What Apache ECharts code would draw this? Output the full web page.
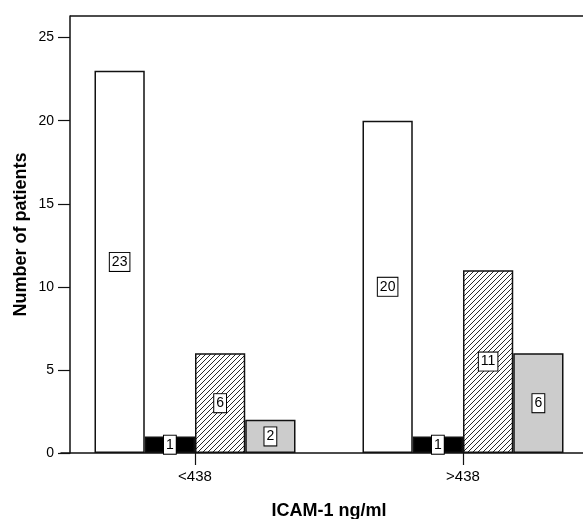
<!DOCTYPE html>
<html><head><meta charset="utf-8">
<script src="https://cdn.jsdelivr.net/npm/echarts@6/dist/echarts.min.js"></script>
<style>html,body{margin:0;padding:0;background:#fff}#c{width:583px;height:519px}</style>
</head><body><div id="c"></div>
<script>
var categories = ['<438', '>438'];
var whiteVals = [23, 20];
var blackVals = [1, 1];
var hatchVals = [6, 11];
var grayVals = [2, 6];
var yTicks = [0, 5, 10, 15, 20, 25];

var cv = document.createElement('canvas');
cv.width = 5; cv.height = 5;
var cx = cv.getContext('2d');
cx.fillStyle = '#fff'; cx.fillRect(0, 0, 5, 5);
cx.strokeStyle = '#111'; cx.lineWidth = 0.9;
cx.beginPath();
cx.moveTo(-1, 6); cx.lineTo(6, -1);
cx.moveTo(-1, 1); cx.lineTo(1, -1);
cx.moveTo(4, 6); cx.lineTo(6, 4);
cx.stroke();

var font = 'Liberation Sans, Arial, Helvetica, sans-serif';
var lbl = {
  show: true, position: 'inside', color: '#000', fontSize: 14, fontFamily: font,
  backgroundColor: '#fff', borderColor: '#000', borderWidth: 1, padding: [3, 2, 1, 2]
};
function mk(name, data, color) {
  return {
    name: name, type: 'bar', data: data, barGap: '0%', barCategoryGap: '25%',
    itemStyle: { color: color, borderColor: '#111', borderWidth: 1.5 },
    label: lbl, emphasis: { disabled: true }
  };
}
var chart = echarts.init(document.getElementById('c'), null, { renderer: 'canvas' });
chart.setOption({
  animation: false,
  grid: { left: 61, width: 536, top: 16, height: 437, containLabel: false, outerBoundsMode: 'none' },
  xAxis: {
    type: 'category', data: categories,
    name: 'ICAM-1 ng/ml', nameLocation: 'middle', nameGap: 49, nameMoveOverlap: false,
    nameTextStyle: { fontFamily: font, fontSize: 18, fontWeight: 'bold', color: '#000' },
    axisLine: { lineStyle: { color: '#111', width: 1.5 } },
    axisTick: { show: true, alignWithLabel: true, length: 12, lineStyle: { color: '#111', width: 1.2 } },
    axisLabel: { fontFamily: font, fontSize: 15, color: '#000', margin: 16 }
  },
  yAxis: {
    type: 'value', min: 0, max: 26.3, interval: 5, offset: -9,
    name: 'Number of patients', nameLocation: 'middle', nameGap: 40, nameRotate: 90,
    nameMoveOverlap: false,
    nameTextStyle: { fontFamily: font, fontSize: 18, fontWeight: 'bold', color: '#000' },
    axisLine: { show: true, lineStyle: { color: '#111', width: 1.5 } },
    axisTick: { show: true, length: 12, lineStyle: { color: '#111', width: 1.2 },
      customValues: yTicks },
    axisLabel: { fontFamily: font, fontSize: 14, color: '#000', margin: 16,
      customValues: yTicks },
    splitLine: { show: false }
  },
  graphic: [{
    type: 'line', shape: { x1: 70, y1: 16, x2: 583, y2: 16 },
    style: { stroke: '#111', lineWidth: 1.5 }
  }],
  series: [
    mk('white', whiteVals, '#fff'),
    mk('black', blackVals, '#000'),
    mk('hatched', hatchVals, { image: cv, repeat: 'repeat' }),
    mk('gray', grayVals, '#cccccc')
  ]
});
</script></body></html>
